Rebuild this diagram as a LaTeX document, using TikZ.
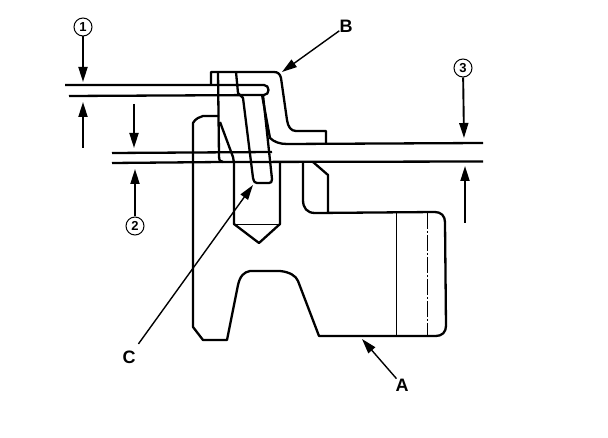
\documentclass[tikz,border=0pt]{standalone}
\usepackage{fontspec}
\setmainfont{Liberation Sans}
\usetikzlibrary{arrows.meta}
\tikzset{
  x=1pt,y=-1pt,
  heavy/.style={line width=2.3pt,line join=round,line cap=butt},
  thinline/.style={line width=0.9pt},
  dashdot/.style={line width=0.9pt,dash pattern=on 16pt off 2pt on 2pt off 2pt},
  pointer/.style={line width=1.9pt,-{Triangle[length=15pt,width=9pt]}},
  leader/.style={line width=1.4pt,-{Triangle[length=15pt,width=9pt]}},
  letter/.style={font=\bfseries\fontsize{18}{18}\selectfont,inner sep=0pt},
  numcirc/.style={circle,draw,line width=1pt,minimum size=18pt,inner sep=0pt,font=\bfseries\fontsize{13}{13}\selectfont},
}
\begin{document}
\begin{tikzpicture}
\useasboundingbox (0,0) rectangle (608,438);
% block A
\draw[heavy] (219,116) -- (203,116) -- (198,118) .. controls (196,119) and (194,121) .. (193,123)
  -- (193,327) -- (203,340) -- (227,340) -- (238,285)
  .. controls (240,276) and (244,272) .. (250,271) -- (280,271)
  .. controls (290,272) and (296,276) .. (298,281) -- (319,336) -- (436,336)
  .. controls (442,336) and (446,332) .. (446,326) -- (445,222)
  .. controls (445,216) and (441,212) .. (435,212) -- (315,213)
  .. controls (307,213) and (303,208) .. (303,200) -- (303,162);
\draw[heavy] (313,162) -- (328,175) -- (328,213);
\draw[thinline] (396,213) -- (396,336);
\draw[dashdot] (427,213) -- (427,336);
% hole
\draw[heavy] (220,122) -- (233,157) -- (234,163) -- (234,224) -- (259,243) -- (280,224) -- (280,162);
\draw[thinline] (234,224) -- (280,224);
% sheets
\draw[heavy] (65,85) -- (264,85) .. controls (270,85) and (270,95) .. (264,95) -- (69,96);
\draw[heavy] (112,153) -- (272,152);
\draw[heavy] (112,163) -- (222,162) -- (483,161.5);
\draw[heavy] (287,144) -- (483,143);
% part B
\draw[heavy] (211,85) -- (211,72) -- (274,72) .. controls (278,72) and (280,74) .. (281,78)
  -- (287,120) .. controls (288,127) and (291,131) .. (296,131) -- (326,131) -- (326,144);
\draw[heavy] (262,95) -- (270,138) .. controls (274,142) and (280,144) .. (287,144);
\draw[heavy] (218,72) -- (219,156) .. controls (219,160) and (220,162) .. (223,162);
% rivet C
\draw[heavy] (236,72) -- (238,93) -- (243,98) -- (253,178) .. controls (254,182) and (255,183) .. (257,183)
  -- (269,183) .. controls (271,183) and (272,182) .. (272,179) -- (263,95);
% labels
\node[letter] (labB) at (346,26) {B};
\node[letter] (labC) at (129,357) {C};
\node[letter] (labA) at (402,385) {A};
\node[numcirc] (n1) at (83,27) {1};
\node[numcirc] (n2) at (135,226) {2};
\node[numcirc] (n3) at (463,68) {3};
% free ends
\coordinate (tipB) at (282,72);
\coordinate (tipC) at (253,185);
\coordinate (tipA) at (362,339);
\coordinate (t1a) at (83,82);
\coordinate (s1b) at (83,148);
\coordinate (t1b) at (83,102);
\coordinate (s2a) at (134,104);
\coordinate (t2a) at (134,148);
\coordinate (t2b) at (135,169);
\coordinate (t3a) at (464,138);
\coordinate (s3b) at (465,223);
\coordinate (t3b) at (465,166);
% connectors
\draw[leader] (labB) -- (tipB);
\draw[leader,shorten <=8pt] (labC) -- (tipC);
\draw[leader] (labA) -- (tipA);
\draw[pointer] (n1) -- (t1a);
\draw[pointer] (s1b) -- (t1b);
\draw[pointer] (s2a) -- (t2a);
\draw[pointer] (n2) -- (t2b);
\draw[pointer] (n3) -- (t3a);
\draw[pointer] (s3b) -- (t3b);
\end{tikzpicture}
\end{document}
